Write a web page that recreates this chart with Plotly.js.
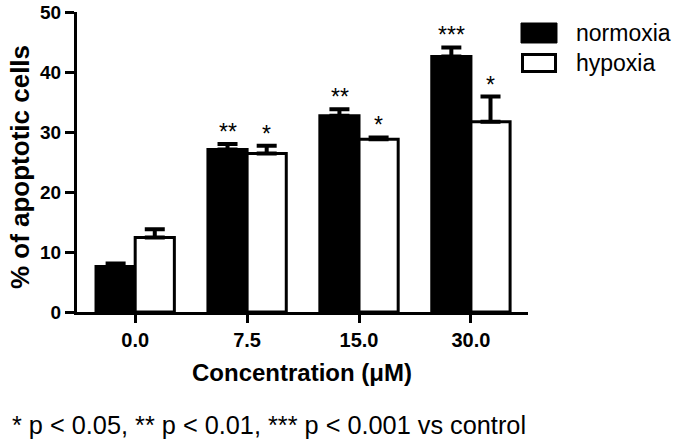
<!DOCTYPE html>
<html>
<head>
<meta charset="utf-8">
<script src="https://cdn.plot.ly/plotly-3.0.1.min.js"></script>
<style>html,body{margin:0;padding:0;background:#fff;}#chart{width:676px;height:444px;}</style>
</head>
<body>
<div id="chart"></div>
<script>
const categories = ["0.0", "7.5", "15.0", "30.0"];
const seriesNames = ["normoxia", "hypoxia"];
const normoxia = [7.6, 27.1, 32.7, 42.6];
const normoxiaErr = [0.5, 0.9, 1.1, 1.5];
const hypoxia = [12.4, 26.4, 28.8, 31.7];
const hypoxiaErr = [1.4, 1.3, 0.3, 4.2];
const normoxiaSig = ["", "**", "**", "***"];
const hypoxiaSig = ["", "*", "*", "*"];
const yTicks = [0, 10, 20, 30, 40, 50];
const xTitle = "Concentration (μM)";
const yTitle = "% of apoptotic cells";
const footnote = "* p < 0.05, ** p < 0.01, *** p < 0.001 vs control";

const FONT = "Liberation Sans, Arial, sans-serif";

function barTrace(name, vals, errs, fill) {
  return {
    type: "bar", name: name, x: categories, y: vals,
    marker: {color: fill, line: {color: "#000", width: 3}},
    error_y: {type: "data", symmetric: false, array: errs,
              arrayminus: vals.map(() => 0), color: "#000",
              thickness: 4, width: 10},
    showlegend: false, hoverinfo: "skip"
  };
}

const data = [
  barTrace(seriesNames[0], normoxia, normoxiaErr, "#000"),
  barTrace(seriesNames[1], hypoxia, hypoxiaErr, "#fff")
];

const annotations = [];
function addSig(labels, vals, errs, shift) {
  labels.forEach((t, i) => {
    if (!t) return;
    annotations.push({
      x: i, y: vals[i] + errs[i], xref: "x", yref: "y",
      text: t, showarrow: false, xanchor: "center", yanchor: "bottom",
      xshift: shift, yshift: -3,
      font: {family: FONT, size: 23, color: "#000"}
    });
  });
}
addSig(normoxiaSig, normoxia, normoxiaErr, -19.5);
addSig(hypoxiaSig, hypoxia, hypoxiaErr, 19.5);

annotations.push({
  xref: "paper", yref: "paper", x: -0.149, y: -0.377,
  xanchor: "left", yanchor: "middle", showarrow: false,
  text: footnote, font: {family: FONT, size: 25.3, color: "#000"}
});
annotations.push({
  xref: "paper", yref: "paper", x: 0.499, y: -0.2,
  xanchor: "center", yanchor: "middle", showarrow: false,
  text: "<b>" + xTitle + "</b>", font: {family: FONT, size: 24, color: "#000"}
});
annotations.push({
  xref: "paper", yref: "paper", x: -0.1264, y: 0.483,
  xanchor: "center", yanchor: "middle", showarrow: false, textangle: -90,
  text: "<b>" + yTitle + "</b>", font: {family: FONT, size: 26, color: "#000"}
});
annotations.push({
  xref: "paper", yref: "paper", x: 1.102, y: 0.93,
  xanchor: "left", yanchor: "middle", showarrow: false,
  text: seriesNames[0], font: {family: FONT, size: 23, color: "#000"}
});
annotations.push({
  xref: "paper", yref: "paper", x: 1.102, y: 0.83,
  xanchor: "left", yanchor: "middle", showarrow: false,
  text: seriesNames[1], font: {family: FONT, size: 23, color: "#000"}
});

const shapes = [
  {type: "rect", xref: "paper", yref: "paper", x0: 0.9845, x1: 1.0643, y0: 0.8967, y1: 0.9633,
   fillcolor: "#000", line: {color: "#000", width: 1}},
  {type: "rect", xref: "paper", yref: "paper", x0: 0.9878, x1: 1.061, y0: 0.8017, y1: 0.8583,
   fillcolor: "#fff", line: {color: "#000", width: 3}}
];

const layout = {
  width: 676, height: 444,
  margin: {l: 77, r: 148, t: 12, b: 132, pad: 0},
  paper_bgcolor: "#fff", plot_bgcolor: "#fff",
  barmode: "group", bargap: 0.3, bargroupgap: 0,
  font: {family: FONT, color: "#000"},
  xaxis: {
    type: "category", range: [-0.52, 3.51], fixedrange: true,
    showline: true, linecolor: "#000", linewidth: 3,
    ticks: "outside", ticklen: 8, tickwidth: 3, tickcolor: "#000",
    showgrid: false, zeroline: false,
    tickfont: {family: FONT, size: 20, color: "#000", weight: "bold"}
  },
  yaxis: {
    range: [0, 50], tickvals: yTicks, ticktext: yTicks.map(String), fixedrange: true,
    showline: true, linecolor: "#000", linewidth: 3,
    ticks: "outside", ticklen: 9, tickwidth: 3, tickcolor: "#000",
    showgrid: false, zeroline: false,
    tickfont: {family: FONT, size: 19, color: "#000", weight: "bold"}
  },
  annotations: annotations,
  shapes: shapes
};

Plotly.newPlot("chart", data, layout, {staticPlot: true, displayModeBar: false});
</script>
</body>
</html>
